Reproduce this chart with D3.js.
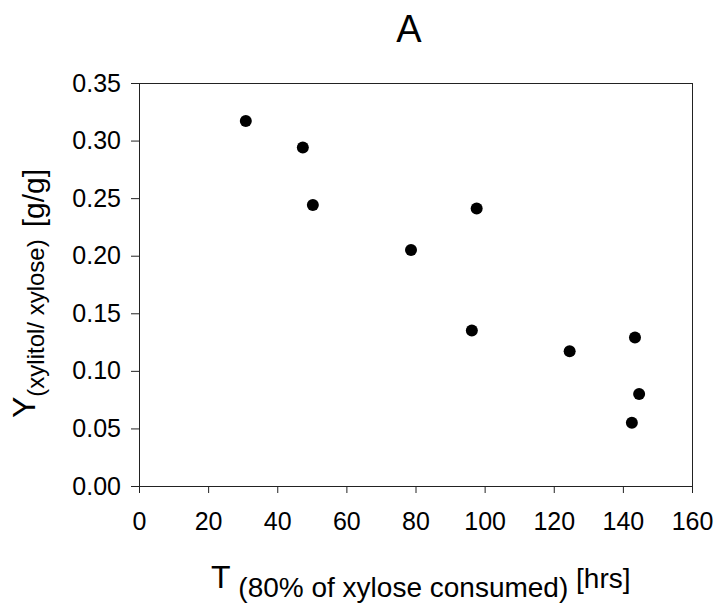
<!DOCTYPE html>
<html><head><meta charset="utf-8">
<script src="https://cdn.jsdelivr.net/npm/d3@7/dist/d3.min.js"></script>
<style>
body{margin:0;background:#fff}
text{font-family:"Liberation Sans",Arial,sans-serif;fill:#000}
</style>
</head><body>
<svg id="c" width="717" height="608"></svg>
<script>
// ---- data ----
const hours  = [30.9, 47.4, 50.3, 78.7, 97.7, 96.3, 124.6, 143.5, 144.7, 142.6];
const yields = [0.317, 0.294, 0.244, 0.205, 0.241, 0.135, 0.117, 0.129, 0.080, 0.055];
const xTicks = [0, 20, 40, 60, 80, 100, 120, 140, 160];
const yTicks = [0, 0.05, 0.10, 0.15, 0.20, 0.25, 0.30, 0.35];
const titleText = "A";
const xLabelMain = "T", xLabelSub = "(80% of xylose consumed)", xLabelUnit = "[hrs]";
const yLabelMain = "Y", yLabelSub = "(xylitol/ xylose)", yLabelUnit = "[g/g]";

// ---- layout ----
const W = 717, H = 608;
const m = {left: 139, right: 25, top: 83, bottom: 122};
const iw = W - m.left - m.right, ih = H - m.top - m.bottom;

const svg = d3.select("#c");
const g = svg.append("g").attr("transform", `translate(${m.left},${m.top})`);

const x = d3.scaleLinear().domain([0, 160]).range([0, iw]);
const y = d3.scaleLinear().domain([0, 0.35]).range([ih, 0]);

// frame
g.append("rect").attr("x", 0.5).attr("y", 0.5).attr("width", iw).attr("height", ih)
  .attr("fill", "none").attr("stroke", "#222").attr("stroke-width", 1);

const xa = g.append("g").attr("transform", `translate(0,${ih})`)
  .call(d3.axisBottom(x).tickValues(xTicks).tickSize(7).tickSizeOuter(0).tickPadding(19)
        .tickFormat(d3.format("d")));
const ya = g.append("g")
  .call(d3.axisLeft(y).tickValues(yTicks).tickSize(8).tickSizeOuter(0).tickPadding(10)
        .tickFormat(d3.format(".2f")));
[xa, ya].forEach(a => {
  a.select(".domain").attr("stroke", "#222");
  a.selectAll(".tick line").attr("stroke", "#222");
  a.selectAll("text").attr("font-size", 25).attr("font-family", "Liberation Sans, Arial, sans-serif").attr("fill", "#000");
});

// points
g.selectAll("circle.pt").data(hours.map((h, i) => ({h, v: yields[i]})))
  .join("circle").attr("class", "pt")
  .attr("cx", d => x(d.h)).attr("cy", d => y(d.v)).attr("r", 6).attr("fill", "#000");

// title
svg.append("text").attr("x", 409).attr("y", 42).attr("text-anchor", "middle")
  .attr("font-size", 38).text(titleText);

// x label
const xl = svg.append("text").attr("x", 211).attr("y", 588).attr("text-anchor", "start");
xl.append("tspan").attr("font-size", 32).text(xLabelMain);
xl.append("tspan").attr("font-size", 28).attr("dy", 9).text(" " + xLabelSub);
xl.append("tspan").attr("font-size", 28).attr("dy", -9).text(" " + xLabelUnit);

// y label
const yl = svg.append("text").attr("transform", `translate(35,418) rotate(-90)`)
  .attr("text-anchor", "start");
yl.append("tspan").attr("font-size", 32).text(yLabelMain);
yl.append("tspan").attr("font-size", 24).attr("dy", 9).text(yLabelSub);
yl.append("tspan").attr("font-size", 30).attr("dx", 12).text(yLabelUnit);
</script>
</body></html>
